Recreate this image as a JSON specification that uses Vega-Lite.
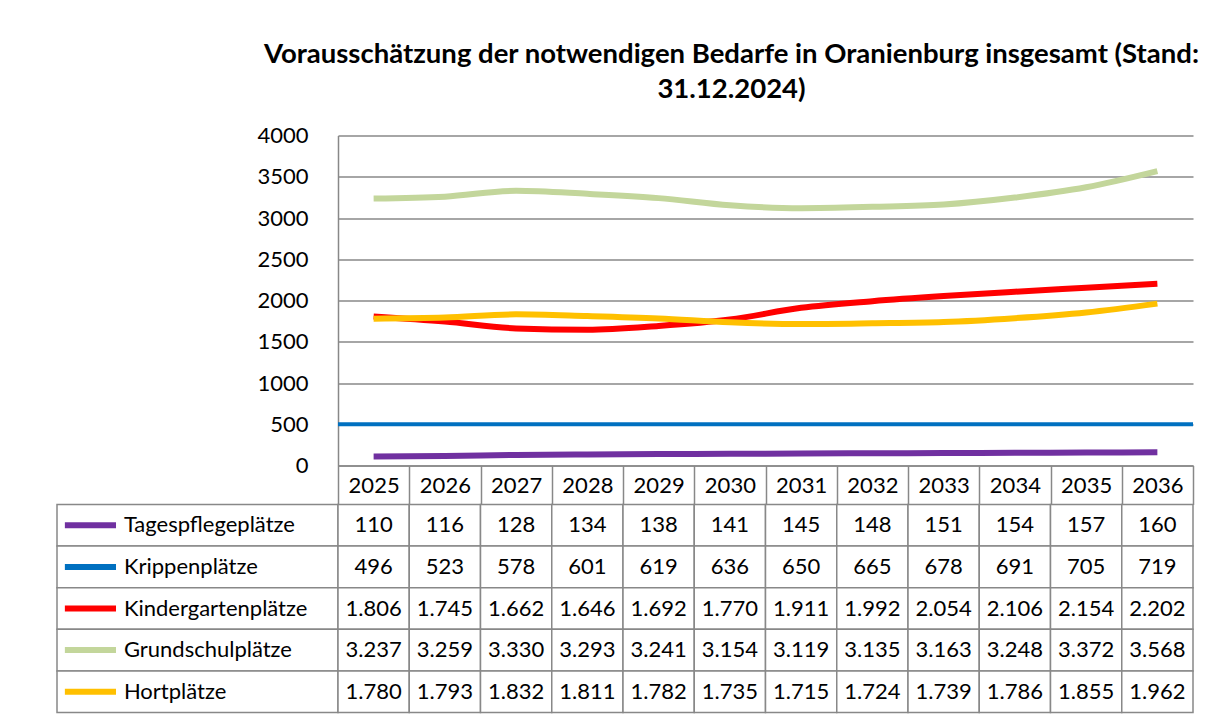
{
  "$schema": "https://vega.github.io/schema/vega-lite/v6.json",
  "background": "white",
  "padding": {"left": 56, "top": 40.5, "right": 20, "bottom": 6},
  "bounds": "flush",
  "columns": 2,
  "spacing": {"row": 39, "column": 0},
  "datasets": {
    "tab": [
      {"Reihe": "Tagespflegeplätze", "Jahr": "2025", "Wert": 110},
      {"Reihe": "Tagespflegeplätze", "Jahr": "2026", "Wert": 116},
      {"Reihe": "Tagespflegeplätze", "Jahr": "2027", "Wert": 128},
      {"Reihe": "Tagespflegeplätze", "Jahr": "2028", "Wert": 134},
      {"Reihe": "Tagespflegeplätze", "Jahr": "2029", "Wert": 138},
      {"Reihe": "Tagespflegeplätze", "Jahr": "2030", "Wert": 141},
      {"Reihe": "Tagespflegeplätze", "Jahr": "2031", "Wert": 145},
      {"Reihe": "Tagespflegeplätze", "Jahr": "2032", "Wert": 148},
      {"Reihe": "Tagespflegeplätze", "Jahr": "2033", "Wert": 151},
      {"Reihe": "Tagespflegeplätze", "Jahr": "2034", "Wert": 154},
      {"Reihe": "Tagespflegeplätze", "Jahr": "2035", "Wert": 157},
      {"Reihe": "Tagespflegeplätze", "Jahr": "2036", "Wert": 160},
      {"Reihe": "Krippenplätze", "Jahr": "2025", "Wert": 496},
      {"Reihe": "Krippenplätze", "Jahr": "2026", "Wert": 523},
      {"Reihe": "Krippenplätze", "Jahr": "2027", "Wert": 578},
      {"Reihe": "Krippenplätze", "Jahr": "2028", "Wert": 601},
      {"Reihe": "Krippenplätze", "Jahr": "2029", "Wert": 619},
      {"Reihe": "Krippenplätze", "Jahr": "2030", "Wert": 636},
      {"Reihe": "Krippenplätze", "Jahr": "2031", "Wert": 650},
      {"Reihe": "Krippenplätze", "Jahr": "2032", "Wert": 665},
      {"Reihe": "Krippenplätze", "Jahr": "2033", "Wert": 678},
      {"Reihe": "Krippenplätze", "Jahr": "2034", "Wert": 691},
      {"Reihe": "Krippenplätze", "Jahr": "2035", "Wert": 705},
      {"Reihe": "Krippenplätze", "Jahr": "2036", "Wert": 719},
      {"Reihe": "Kindergartenplätze", "Jahr": "2025", "Wert": 1806},
      {"Reihe": "Kindergartenplätze", "Jahr": "2026", "Wert": 1745},
      {"Reihe": "Kindergartenplätze", "Jahr": "2027", "Wert": 1662},
      {"Reihe": "Kindergartenplätze", "Jahr": "2028", "Wert": 1646},
      {"Reihe": "Kindergartenplätze", "Jahr": "2029", "Wert": 1692},
      {"Reihe": "Kindergartenplätze", "Jahr": "2030", "Wert": 1770},
      {"Reihe": "Kindergartenplätze", "Jahr": "2031", "Wert": 1911},
      {"Reihe": "Kindergartenplätze", "Jahr": "2032", "Wert": 1992},
      {"Reihe": "Kindergartenplätze", "Jahr": "2033", "Wert": 2054},
      {"Reihe": "Kindergartenplätze", "Jahr": "2034", "Wert": 2106},
      {"Reihe": "Kindergartenplätze", "Jahr": "2035", "Wert": 2154},
      {"Reihe": "Kindergartenplätze", "Jahr": "2036", "Wert": 2202},
      {"Reihe": "Grundschulplätze", "Jahr": "2025", "Wert": 3237},
      {"Reihe": "Grundschulplätze", "Jahr": "2026", "Wert": 3259},
      {"Reihe": "Grundschulplätze", "Jahr": "2027", "Wert": 3330},
      {"Reihe": "Grundschulplätze", "Jahr": "2028", "Wert": 3293},
      {"Reihe": "Grundschulplätze", "Jahr": "2029", "Wert": 3241},
      {"Reihe": "Grundschulplätze", "Jahr": "2030", "Wert": 3154},
      {"Reihe": "Grundschulplätze", "Jahr": "2031", "Wert": 3119},
      {"Reihe": "Grundschulplätze", "Jahr": "2032", "Wert": 3135},
      {"Reihe": "Grundschulplätze", "Jahr": "2033", "Wert": 3163},
      {"Reihe": "Grundschulplätze", "Jahr": "2034", "Wert": 3248},
      {"Reihe": "Grundschulplätze", "Jahr": "2035", "Wert": 3372},
      {"Reihe": "Grundschulplätze", "Jahr": "2036", "Wert": 3568},
      {"Reihe": "Hortplätze", "Jahr": "2025", "Wert": 1780},
      {"Reihe": "Hortplätze", "Jahr": "2026", "Wert": 1793},
      {"Reihe": "Hortplätze", "Jahr": "2027", "Wert": 1832},
      {"Reihe": "Hortplätze", "Jahr": "2028", "Wert": 1811},
      {"Reihe": "Hortplätze", "Jahr": "2029", "Wert": 1782},
      {"Reihe": "Hortplätze", "Jahr": "2030", "Wert": 1735},
      {"Reihe": "Hortplätze", "Jahr": "2031", "Wert": 1715},
      {"Reihe": "Hortplätze", "Jahr": "2032", "Wert": 1724},
      {"Reihe": "Hortplätze", "Jahr": "2033", "Wert": 1739},
      {"Reihe": "Hortplätze", "Jahr": "2034", "Wert": 1786},
      {"Reihe": "Hortplätze", "Jahr": "2035", "Wert": 1855},
      {"Reihe": "Hortplätze", "Jahr": "2036", "Wert": 1962}
    ]
  },
  "concat": [
    {
      "width": 281,
      "height": 330,
      "data": {"values": [{}]},
      "mark": {"type": "point", "opacity": 0},
      "encoding": {}
    },
    {
      "width": 855,
      "height": 330,
      "title": {
        "text": ["Vorausschätzung der notwendigen Bedarfe in Oranienburg insgesamt (Stand:", "31.12.2024)"],
        "font": "Lato",
        "fontSize": 27.5,
        "fontWeight": "bold",
        "color": "black",
        "anchor": "middle",
        "dx": -34,
        "offset": 21,
        "lineHeight": 35
      },
      "layer": [
        {
          "data": {"name": "tab"},
          "transform": [{"filter": "datum.Reihe !== 'Krippenplätze'"}],
          "mark": {"type": "line", "interpolate": "monotone", "strokeWidth": 6},
          "encoding": {
            "x": {
              "field": "Jahr",
              "type": "ordinal",
              "scale": {"type": "band", "paddingInner": 0, "paddingOuter": 0},
              "axis": {
                "title": null,
                "labelAngle": 0,
                "domainColor": "#888888",
                "domainWidth": 1.5,
                "tickBand": "extent",
                "tickSize": 39,
                "tickColor": "#888888",
                "tickWidth": 1.5,
                "labelFont": "Lato",
                "labelFontSize": 22,
                "labelColor": "black",
                "labelBaseline": "middle",
                "labelPadding": -19.5
              }
            },
            "y": {
              "field": "Wert",
              "type": "quantitative",
              "scale": {"domain": [0, 4000]},
              "axis": {
                "title": null,
                "format": "d",
                "values": [0, 500, 1000, 1500, 2000, 2500, 3000, 3500, 4000],
                "grid": true,
                "gridColor": "#888888",
                "gridWidth": 1.5,
                "domainColor": "#888888",
                "domainWidth": 1.5,
                "ticks": false,
                "labelPadding": 30,
                "labelFont": "Lato",
                "labelFontSize": 22,
                "labelColor": "black"
              }
            },
            "color": {
              "field": "Reihe",
              "type": "nominal",
              "scale": {
                "domain": ["Tagespflegeplätze", "Krippenplätze", "Kindergartenplätze", "Grundschulplätze", "Hortplätze"],
                "range": ["#7030A0", "#0070C0", "#FF0000", "#C3D69B", "#FFC000"]
              },
              "legend": null
            }
          }
        },
        {
          "data": {"values": [{}]},
          "mark": {"type": "rule", "color": "#0070C0", "strokeWidth": 4},
          "encoding": {"y": {"datum": 500}}
        }
      ]
    },
    {
      "width": 281,
      "height": 208,
      "data": {"name": "tab"},
      "transform": [{"filter": "datum.Jahr === '2025'"}],
      "encoding": {
        "y": {
          "field": "Reihe",
          "type": "nominal",
          "scale": {"domain": ["Tagespflegeplätze", "Krippenplätze", "Kindergartenplätze", "Grundschulplätze", "Hortplätze"], "paddingInner": 0, "paddingOuter": 0},
          "axis": null
        }
      },
      "layer": [
        {"mark": {"type": "rect", "fill": "white", "stroke": "#888888", "strokeWidth": 1.5}},
        {
          "mark": {"type": "rule", "strokeWidth": 6},
          "encoding": {
            "x": {"datum": 2.8, "type": "quantitative", "scale": {"domain": [0, 100]}, "axis": null},
            "x2": {"datum": 21},
            "color": {
              "field": "Reihe",
              "type": "nominal",
              "scale": {
                "domain": ["Tagespflegeplätze", "Krippenplätze", "Kindergartenplätze", "Grundschulplätze", "Hortplätze"],
                "range": ["#7030A0", "#0070C0", "#FF0000", "#C3D69B", "#FFC000"]
              },
              "legend": null
            }
          }
        },
        {
          "mark": {"type": "text", "align": "left", "font": "Lato", "fontSize": 22, "color": "black"},
          "encoding": {
            "x": {"datum": 23.8, "type": "quantitative"},
            "text": {"field": "Reihe"}
          }
        }
      ]
    },
    {
      "width": 855,
      "height": 208,
      "data": {"name": "tab"},
      "encoding": {
        "x": {"field": "Jahr", "type": "ordinal", "scale": {"type": "band", "paddingInner": 0, "paddingOuter": 0}, "axis": null},
        "y": {
          "field": "Reihe",
          "type": "nominal",
          "scale": {"domain": ["Tagespflegeplätze", "Krippenplätze", "Kindergartenplätze", "Grundschulplätze", "Hortplätze"], "paddingInner": 0, "paddingOuter": 0},
          "axis": null
        }
      },
      "layer": [
        {"mark": {"type": "rect", "fill": "white", "stroke": "#888888", "strokeWidth": 1.5}},
        {
          "mark": {"type": "text", "font": "Lato", "fontSize": 22, "color": "black"},
          "encoding": {"text": {"field": "Wert", "type": "quantitative", "format": ",d"}}
        }
      ]
    }
  ],
  "config": {
    "view": {"stroke": null},
    "font": "Lato",
    "locale": {"number": {"decimal": ",", "thousands": ".", "grouping": [3], "currency": ["", " €"]}}
  }
}
